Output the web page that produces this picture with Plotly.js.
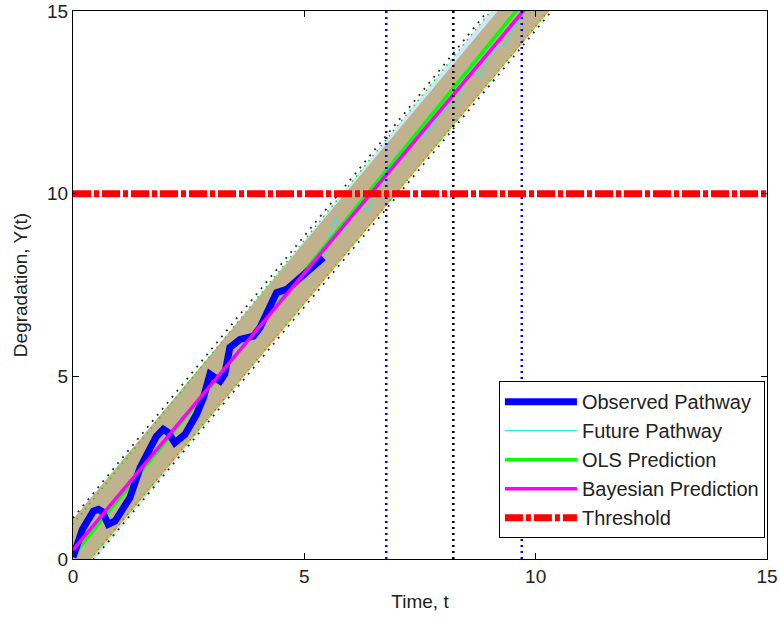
<!DOCTYPE html>
<html>
<head>
<meta charset="utf-8">
<script src="https://cdn.plot.ly/plotly-3.0.1.min.js"></script>
<style>html,body{margin:0;padding:0;background:#fff;}#chart{width:780px;height:620px;}</style>
</head>
<body>
<div id="chart"></div>
<script>
// Observed degradation pathway
const obsT = [0, 0.04, 0.2, 0.44, 0.55, 0.63, 0.76, 0.91, 1.05, 1.23, 1.45, 1.66, 1.8, 1.95, 2.06, 2.2, 2.42, 2.67, 2.82, 2.96, 3.18, 3.28, 3.39, 3.61, 3.90, 4.04, 4.26, 4.40, 4.62, 4.83, 5.09, 5.41];
const obsY = [0.05, 0.22, 0.8, 1.31, 1.36, 1.3, 0.95, 1.04, 1.3, 1.68, 2.5, 3.05, 3.35, 3.55, 3.46, 3.18, 3.41, 3.96, 4.42, 5.06, 4.87, 5.06, 5.79, 6.01, 6.10, 6.33, 6.88, 7.29, 7.38, 7.61, 7.88, 8.25];
// Future pathway
const futT = [5.41, 5.51, 5.66, 5.84, 5.98, 6.16, 6.30, 6.38, 6.45, 6.6, 6.8, 7.0, 7.1, 7.24, 7.40, 7.55, 7.72, 7.89, 8.05, 8.2, 8.38, 8.50, 8.62, 8.80, 8.98, 9.15, 9.34, 9.44, 9.52, 9.66, 9.75];
const futY = [8.25, 8.71, 9.34, 8.98, 9.30, 9.76, 9.57, 9.53, 9.80, 10.15, 10.50, 10.85, 11.1, 11.4, 11.6, 11.55, 11.76, 12.13, 12.3, 12.45, 12.7, 13.3, 13.45, 13.22, 13.72, 14.0, 14.09, 14.37, 14.55, 14.73, 15.1];
// Prediction lines and bands
const predT = [0, 2, 4, 6, 8, 10, 11];
const olsY = [0.10, 3.21, 6.32, 9.43, 12.54, 15.65, 17.21];
const olsUpper = [0.95, 4.06, 7.17, 10.28, 13.39, 16.50, 18.06];
const olsLower = [-0.75, 2.36, 5.47, 8.58, 11.69, 14.80, 16.36];
const bayY = [0.25, 3.28, 6.31, 9.34, 12.37, 15.40, 16.92];
const bayUpper = [1.07, 4.10, 7.13, 10.16, 13.19, 16.22, 17.74];
const bayLower = [-0.57, 2.46, 5.49, 8.52, 11.55, 14.58, 16.10];
const outerUpper = [1.12, 4.20, 7.28, 10.39, 13.50, 16.61, 18.17];
const outerLower = [-0.68, 2.35, 5.38, 8.41, 11.44, 14.47, 15.99];
// Threshold and failure-time markers
const thresholdX = [0, 15];
const thresholdY = [10, 10];
const vLineY = [0, 15];
const lowerTime = 6.77;
const medianTime = 8.22;
const upperTime = 9.70;

const font = 'Arial, "Liberation Sans", Helvetica, sans-serif';
const traces = [
  {x: predT, y: olsLower, mode: 'lines', line: {color: 'rgba(0,0,0,0)', width: 0}, showlegend: false, hoverinfo: 'skip'},
  {x: predT, y: olsUpper, mode: 'lines', fill: 'tonexty', fillcolor: '#CFE6F6', line: {color: 'rgba(0,0,0,0)', width: 0}, showlegend: false, hoverinfo: 'skip'},
  {x: predT, y: bayLower, mode: 'lines', line: {color: '#F2A64E', width: 1.5}, showlegend: false, hoverinfo: 'skip'},
  {x: predT, y: bayUpper, mode: 'lines', fill: 'tonexty', fillcolor: '#BFB28C', line: {color: '#BFB28C', width: 1}, showlegend: false, hoverinfo: 'skip'},
  {x: predT, y: olsUpper, mode: 'lines', line: {color: '#00E000', width: 1.5, dash: '1.5px,5px'}, showlegend: false, hoverinfo: 'skip'},
  {x: predT, y: bayLower, mode: 'lines', line: {color: '#00E000', width: 1.5, dash: '1.5px,5px'}, showlegend: false, hoverinfo: 'skip'},
  {x: predT, y: outerUpper, mode: 'lines', line: {color: '#222', width: 1.8, dash: '1.8px,6px'}, showlegend: false, hoverinfo: 'skip'},
  {x: predT, y: outerLower, mode: 'lines', line: {color: '#222', width: 1.8, dash: '1.8px,6px'}, showlegend: false, hoverinfo: 'skip'},
  {x: futT, y: futY, mode: 'lines', name: 'Future Pathway', line: {color: '#33E6E6', width: 1.2}, legendrank: 2},
  {x: predT, y: olsY, mode: 'lines', name: 'OLS Prediction', line: {color: '#00FF00', width: 3.5}, legendrank: 3},
  {x: obsT, y: obsY, mode: 'lines', name: 'Observed Pathway', line: {color: '#0000FF', width: 7}, legendrank: 1},
  {x: predT, y: bayY, mode: 'lines', name: 'Bayesian Prediction', line: {color: '#FF00FF', width: 3.5}, legendrank: 4},
  {x: [lowerTime, lowerTime], y: vLineY, mode: 'lines', line: {color: '#0000FF', width: 2.5, dash: '2px,4px'}, showlegend: false, hoverinfo: 'skip'},
  {x: [medianTime, medianTime], y: vLineY, mode: 'lines', line: {color: '#000000', width: 2.5, dash: '2px,4px'}, showlegend: false, hoverinfo: 'skip'},
  {x: [upperTime, upperTime], y: vLineY, mode: 'lines', line: {color: '#0000FF', width: 2.5, dash: '2px,4px'}, showlegend: false, hoverinfo: 'skip'},
  {x: thresholdX, y: thresholdY, mode: 'lines', name: 'Threshold', line: {color: '#FF0000', width: 7, dash: '18px,3px,5px,3px'}, legendrank: 5}
];

const axisCommon = {
  range: [0, 15], tickvals: [0, 5, 10, 15], ticktext: ['0', '5', '10', '15'],
  ticks: 'inside', ticklen: 6, tickwidth: 1, tickcolor: '#000',
  showline: true, linecolor: '#000', linewidth: 1, mirror: 'ticks',
  showgrid: false, zeroline: false,
  tickfont: {family: font, size: 19, color: '#222'}
};

const layout = {
  width: 780, height: 620,
  margin: {l: 73, r: 13, t: 11, b: 61},
  paper_bgcolor: '#fff', plot_bgcolor: '#fff',
  xaxis: Object.assign({}, axisCommon, {title: {text: 'Time, t', font: {family: font, size: 19, color: '#222'}, standoff: 8}}),
  yaxis: Object.assign({}, axisCommon, {title: {text: 'Degradation, Y(t)', font: {family: font, size: 19, color: '#222'}, standoff: 14}}),
  showlegend: true,
  legend: {
    x: 0.997, y: 0.038, xanchor: 'right', yanchor: 'bottom',
    bgcolor: '#fff', bordercolor: '#000', borderwidth: 1,
    font: {family: font, size: 20, color: '#222'},
    itemwidth: 72, traceorder: 'normal', tracegroupgap: 0
  }
};

Plotly.newPlot('chart', traces, layout, {displayModeBar: false, staticPlot: true});
</script>
</body>
</html>
